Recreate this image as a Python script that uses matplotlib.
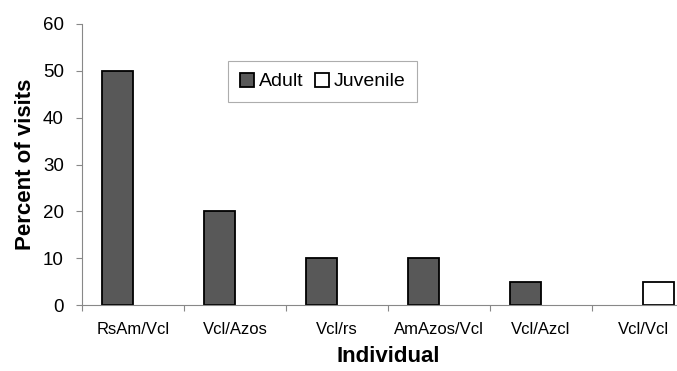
import numpy as np
import matplotlib
matplotlib.use('Agg')
import matplotlib.pyplot as plt
from matplotlib.ticker import FixedLocator

plt.rcParams['font.family'] = ['Liberation Sans', 'DejaVu Sans']

# data
individuals = ['RsAm/Vcl', 'Vcl/Azos', 'Vcl/rs', 'AmAzos/Vcl', 'Vcl/Azcl', 'Vcl/Vcl']
adult = [50, 20, 10, 10, 5, 0]
juvenile = [0, 0, 0, 0, 0, 5]
yticks = [0, 10, 20, 30, 40, 50, 60]

fig = plt.figure(figsize=(6.77, 3.71), dpi=100)
ax = fig.add_axes([82/677, 66/371, 612/677, 281/371])

x = np.arange(len(individuals))
w = 0.3
ax.bar(x[np.array(adult) > 0] - w, [a for a in adult if a > 0], width=w, align='edge',
       color='#585858', edgecolor='black', linewidth=1.3, label='Adult')
ax.bar(x[np.array(juvenile) > 0], [j for j in juvenile if j > 0], width=w, align='edge',
       color='white', edgecolor='black', linewidth=1.3, label='Juvenile')

ax.set_xlim(-0.5, len(individuals) - 0.5)
ax.set_ylim(0, 60)
ax.set_yticks(yticks)
ax.set_xticks(x)
ax.set_xticklabels(individuals, fontsize=12)
ax.xaxis.set_minor_locator(FixedLocator(np.arange(-0.5, len(individuals), 1.0)))
ax.tick_params(axis='x', which='major', length=0, pad=12)
ax.tick_params(axis='x', which='minor', length=4, color='#888888', width=0.8)
ax.tick_params(axis='y', length=4, color='#888888', width=0.8, pad=9, labelsize=13.5)

for s in ['top', 'right']:
    ax.spines[s].set_visible(False)
for s in ['left', 'bottom']:
    ax.spines[s].set_color('#888888')
    ax.spines[s].set_linewidth(0.8)

ax.set_ylabel('Percent of visits', fontsize=16, fontweight='bold', labelpad=5)
ax.set_xlabel('Individual', fontsize=16, fontweight='bold', labelpad=7)

leg = ax.legend(loc='upper left', bbox_to_anchor=(146/612, 244/281), borderaxespad=0,
                ncol=2, fontsize=14, fancybox=False, frameon=True,
                handlelength=0.72, handleheight=0.72, handletextpad=0.26,
                columnspacing=0.6, borderpad=0.6)
leg.get_frame().set_edgecolor('#999999')
leg.get_frame().set_linewidth(0.8)

fig.savefig('out.png', dpi=100)
